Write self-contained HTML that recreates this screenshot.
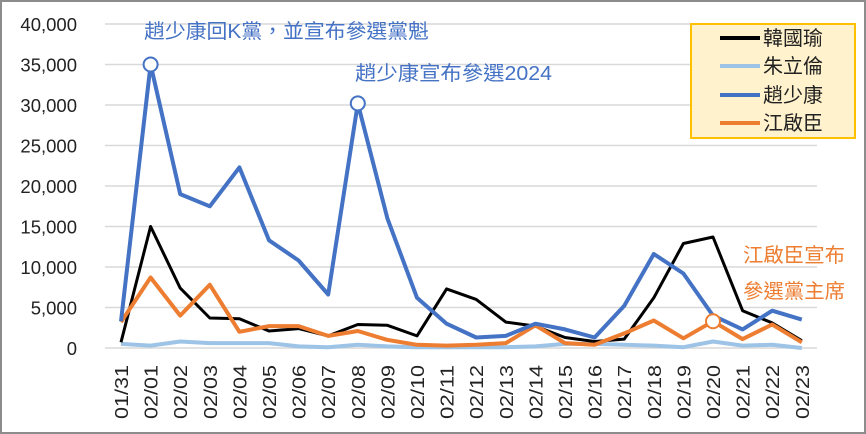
<!DOCTYPE html>
<html><head><meta charset="utf-8"><style>
html,body{margin:0;padding:0;background:#fff;}
svg{display:block;}
text{font-family:"Liberation Sans","Noto Sans CJK TC",sans-serif;}
</style></head><body>
<svg id="s" width="866" height="434" viewBox="0 0 866 434" xmlns="http://www.w3.org/2000/svg">
<rect x="1" y="1" width="864" height="432" fill="#fff" stroke="#8c8c8c" stroke-width="2"/>
<g id="grid" stroke="#d9d9d9" stroke-width="1.5"></g>
<g id="ylab" font-size="18.5" fill="#222" text-anchor="end"></g>
<g id="xlab" font-size="18" fill="#222"></g>
<g id="lines" fill="none" stroke-linejoin="round"></g>
<g font-size="20" fill="#4472c4">
<text x="144" y="38" textLength="285" lengthAdjust="spacingAndGlyphs">趙少康回K黨，並宣布參選黨魁</text>
<text x="355" y="80" textLength="197" lengthAdjust="spacingAndGlyphs">趙少康宣布參選2024</text>
</g>
<g font-size="20" fill="#ed7d31">
<text x="743" y="262" textLength="102" lengthAdjust="spacingAndGlyphs">江啟臣宣布</text>
<text x="743" y="298" textLength="102" lengthAdjust="spacingAndGlyphs">參選黨主席</text>
</g>
<rect x="691" y="24" width="164" height="114" fill="#fff2cc" stroke="#ffc000" stroke-width="2"/>
<g stroke-width="4">
<line x1="720" y1="38" x2="760" y2="38" stroke="#000"/>
<line x1="720" y1="66" x2="760" y2="66" stroke="#9dc3e6"/>
<line x1="720" y1="95" x2="760" y2="95" stroke="#4472c4"/>
<line x1="720" y1="123" x2="760" y2="123" stroke="#ed7d31"/>
</g>
<g font-size="20" fill="#222">
<text x="763" y="45">韓國瑜</text>
<text x="763" y="73">朱立倫</text>
<text x="763" y="102">趙少康</text>
<text x="763" y="130">江啟臣</text>
</g>
</svg>
<script>
var NS="http://www.w3.org/2000/svg";
function el(p,t,a,txt){var e=document.createElementNS(NS,t);for(var k in a)e.setAttribute(k,a[k]);if(txt)e.textContent=txt;document.getElementById(p).appendChild(e);return e;}
function Y(v){return 348-v*0.0081;}
function X(i){return 121+i*29.6;}
for(var k=0;k<=8;k++){var y=Y(k*5000);el("grid","line",{x1:105,x2:817,y1:y,y2:y});
el("ylab","text",{x:77,y:y+7},k==0?"0":(k*5).toString()+",000");}
var d=["01/31"];for(var i=1;i<=23;i++)d.push("02/"+(i<10?"0":"")+i);
for(var i=0;i<24;i++){el("xlab","text",{transform:"translate("+(X(i)+7)+",419) rotate(-90)",textLength:54,lengthAdjust:"spacingAndGlyphs"},d[i]);}
var S=[
["#9dc3e6",[500,300,800,600,600,600,200,100,400,200,100,100,100,100,200,500,500,400,300,100,800,300,400,0]],
["#000",[700,15000,7400,3700,3600,2100,2400,1500,2900,2800,1500,7300,6000,3200,2700,1300,800,1100,6200,12900,13700,4600,3100,900],3],
["#ed7d31",[3200,8700,4000,7800,2000,2700,2700,1500,2100,1000,400,300,400,600,2800,600,400,1800,3400,1200,3300,1100,2900,700]],
["#4472c4",[3300,35000,19000,17500,22300,13300,10800,6600,30200,16000,6200,3000,1300,1500,3000,2300,1300,5200,11600,9200,4000,2300,4600,3500]]];
S.forEach(function(s){var p=s[1].map(function(v,i){return X(i).toFixed(1)+","+Y(v).toFixed(1);}).join(" ");
el("lines","polyline",{points:p,stroke:s[0],"stroke-width":s[2]||4});});
el("lines","circle",{cx:X(1),cy:Y(35000),r:7,fill:"#fff",stroke:"#4472c4","stroke-width":2});
el("lines","circle",{cx:X(8),cy:Y(30200),r:7,fill:"#fff",stroke:"#4472c4","stroke-width":2});
el("lines","circle",{cx:X(20),cy:Y(3300),r:7,fill:"#fff",stroke:"#ed7d31","stroke-width":2});
</script>
</body></html>
